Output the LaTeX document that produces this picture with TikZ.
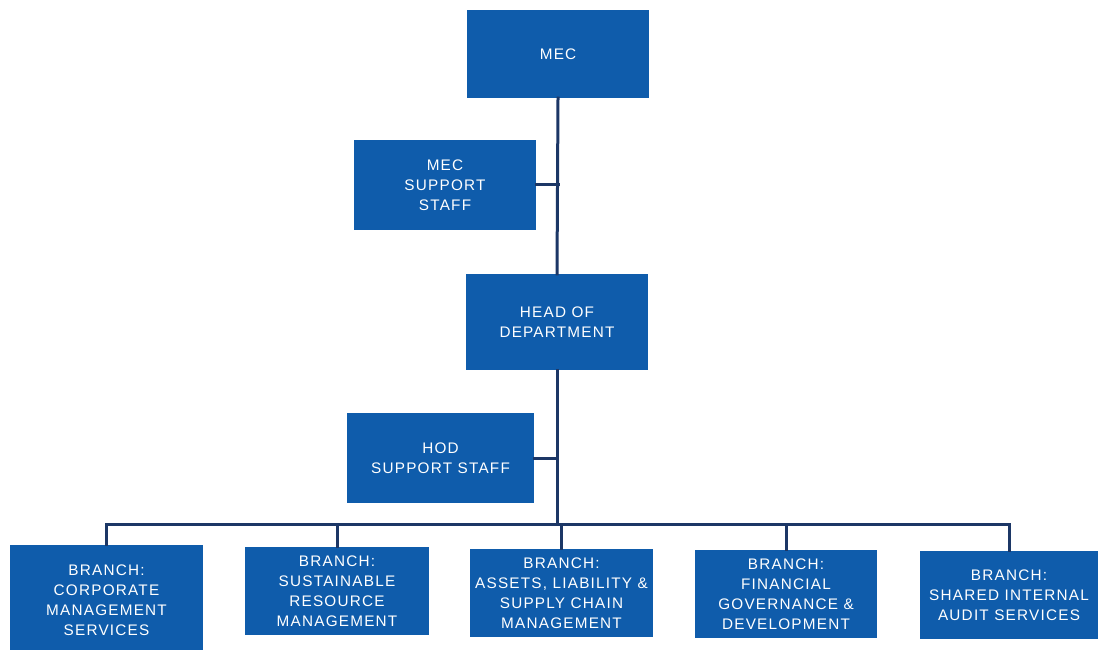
\documentclass[tikz,border=0pt]{standalone}
\usepackage{fontspec}
\setmainfont{Liberation Sans}[LetterSpace=8]
\usepackage{xcolor}
\usepackage{tikz}
\usetikzlibrary{calc}
\definecolor{boxblue}{HTML}{0F5CAB}
\definecolor{linenavy}{HTML}{1C3766}

\begin{document}
\begin{tikzpicture}[x=1pt,y=1pt,line cap=rect,
  unit/.style={fill=boxblue,draw=none,text=white,align=center,
    font=\fontsize{15.3}{20}\selectfont,inner sep=0pt},
  conn/.style={draw=linenavy,line width=3pt}]
\useasboundingbox (0,0) rectangle (1099,649);
\fill[white] (0,0) rectangle (1099,649);
% top of the tree
\node[unit,minimum width=182pt,minimum height=88pt] (mec) at (558,595) {MEC};
\node[unit,minimum width=182pt,minimum height=90pt] (mecstaff) at (445,464) {MEC\\SUPPORT\\STAFF};
\node[unit,minimum width=182pt,minimum height=96pt] (hod) at (557,327) {HEAD OF\\DEPARTMENT};
\node[unit,minimum width=187pt,minimum height=90pt] (hodstaff) at (440.5,191) {HOD\\SUPPORT STAFF};
% branches
\node[unit,minimum width=193pt,minimum height=110pt] (b1) at (106.5,49) {BRANCH:\\CORPORATE\\MANAGEMENT\\SERVICES};
\node[unit,minimum width=184pt,minimum height=88pt] (b2) at (337,58) {BRANCH:\\SUSTAINABLE\\RESOURCE\\MANAGEMENT};
\node[unit,minimum width=183pt,minimum height=88pt] (b3) at (561.5,56) {BRANCH:\\ASSETS, LIABILITY \&\\SUPPLY CHAIN\\MANAGEMENT};
\node[unit,minimum width=182pt,minimum height=88pt] (b4) at (786,55) {BRANCH:\\FINANCIAL\\GOVERNANCE \&\\DEVELOPMENT};
\node[unit,minimum width=178pt,minimum height=88pt] (b5) at (1009,54) {BRANCH:\\SHARED INTERNAL\\AUDIT SERVICES};
\coordinate (bus) at (557,125);
% connectors
\draw[conn] (mec.south) -- (hod.north);
\draw[conn] (hod.south) -- (bus);
\draw[conn] (mecstaff.east) -- (mecstaff.east -| mec.south);
\draw[conn] (hodstaff.east) -- (hodstaff.east -| hod.south);
\draw[conn] (b1.north |- bus) -- (b5.north |- bus);
\foreach \b in {b1,b2,b3,b4,b5}
  \draw[conn] (\b.north) -- (\b.north |- bus);
\end{tikzpicture}
\end{document}
